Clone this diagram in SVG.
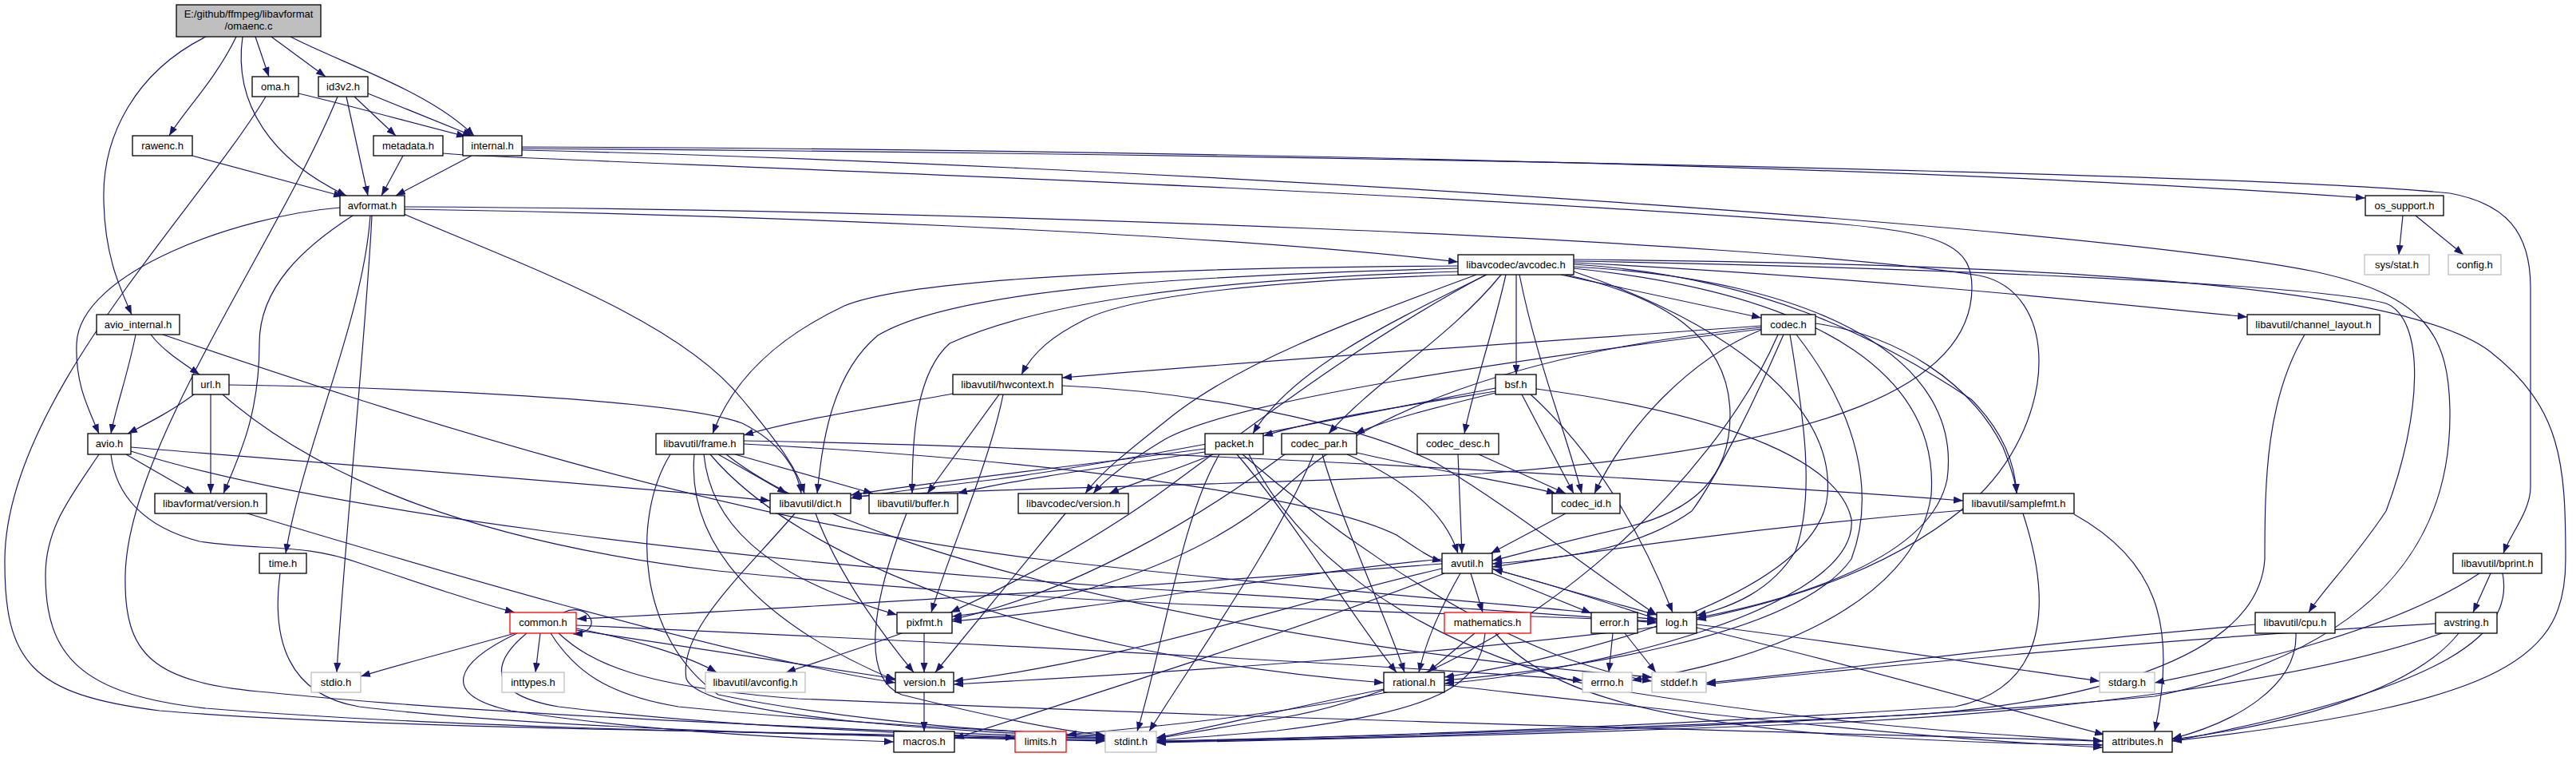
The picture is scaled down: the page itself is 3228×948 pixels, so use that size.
<svg xmlns="http://www.w3.org/2000/svg" width="3228" height="948" viewBox="0 0 3228 948">
<defs>
<marker id="a" markerWidth="12" markerHeight="9" refX="12" refY="4.5" orient="auto" markerUnits="userSpaceOnUse"><path d="M0,0 L12,4.5 L0,9 z" fill="#191970"/></marker>
</defs>
<style>
.e{fill:none;stroke:#191970;stroke-width:1.2;marker-end:url(#a)}
.n rect{fill:#ffffff;stroke:#000000;stroke-width:1.3}
.g rect{fill:#ffffff;stroke:#bfbfbf;stroke-width:1.3}
.r rect{fill:#ffffff;stroke:#ff0000;stroke-width:1.3}
.m rect{fill:#bfbfbf;stroke:#000000;stroke-width:1.3}
text{font-family:"Liberation Sans",Arial,sans-serif;font-size:13px;fill:#000000;text-anchor:middle}
</style>
<rect x="0" y="0" width="3228" height="948" fill="#ffffff"/>
<g id="edges">
<path class="e" d="M258,46 C170,90 128,170 130,250 C131,320 150,360 165,394"/>
<path class="e" d="M296,46 C270,100 230,140 212,170"/>
<path class="e" d="M304,46 C292,130 340,200 434,245"/>
<path class="e" d="M320,46 L337,96"/>
<path class="e" d="M340,46 L408,96"/>
<path class="e" d="M364,46 C430,80 540,115 594,170"/>
<path class="e" d="M374,117 C450,135 520,155 584,171"/>
<path class="e" d="M333,121 C250,260 8,500 6,700 C5,830 40,870 200,890 C500,915 1100,918 1385,925"/>
<path class="e" d="M444,121 L496,170"/>
<path class="e" d="M461,117 L592,170"/>
<path class="e" d="M434,121 L461,245"/>
<path class="e" d="M423,121 C350,300 160,560 157,720 C155,820 190,855 336,867 C600,895 1100,915 1385,925"/>
<path class="e" d="M241,195 L430,246"/>
<path class="e" d="M505,195 L478,245"/>
<path class="e" d="M555,192 C620,200 1600,228 2300,280 C2440,292 2471,310 2471,360 C2471,480 2300,560 1858,593 C1500,610 1200,612 1068,622"/>
<path class="e" d="M591,195 L496,245"/>
<path class="e" d="M654,184 C1200,186 2300,200 2964,248"/>
<path class="e" d="M654,186 C1500,192 2800,215 3070,242 C3140,255 3171,290 3171,360 L3171,610 C3171,640 3145,670 3137,693"/>
<path class="e" d="M654,188 C1400,205 2600,280 2900,340 C3040,370 3070,420 3070,520 C3070,700 2950,820 2700,872 C2300,910 1700,925 1449,929"/>
<path class="e" d="M426,260 C300,270 100,340 96,430 C94,480 110,510 124,543"/>
<path class="e" d="M442,270 C380,310 325,360 325,430 C325,520 300,570 280,618"/>
<path class="e" d="M464,270 C455,400 380,560 358,693"/>
<path class="e" d="M466,270 C460,400 430,700 422,842"/>
<path class="e" d="M506,268 C650,330 850,400 930,500 C980,560 1000,590 1008,618"/>
<path class="e" d="M507,262 C900,268 1500,290 1827,328"/>
<path class="e" d="M507,259 C1200,262 2200,300 2480,345 C2580,365 2580,520 2480,620 C2380,710 2250,750 2126,776"/>
<path class="e" d="M170,419 C160,470 145,510 139,543"/>
<path class="e" d="M189,419 C205,440 230,455 250,469"/>
<path class="e" d="M204,419 C500,520 900,650 1300,700 C1700,745 1950,760 2076,776"/>
<path class="e" d="M243,494 C215,515 185,530 160,543"/>
<path class="e" d="M264,494 L264,618"/>
<path class="e" d="M279,494 C400,600 600,680 900,715 C1400,765 1800,765 2076,778"/>
<path class="e" d="M287,482 C500,485 850,500 930,530 C980,555 1000,590 1004,618"/>
<path class="e" d="M124,569 C90,620 57,660 57,720 C57,820 100,870 258,887 C600,915 1100,920 1385,927"/>
<path class="e" d="M139,569 C145,620 180,660 250,678 C330,690 380,680 450,705 C540,735 600,755 645,767"/>
<path class="e" d="M158,569 L243,618"/>
<path class="e" d="M164,560 C400,580 800,610 965,627"/>
<path class="e" d="M164,565 C400,640 900,700 1400,735 C1800,760 1950,768 2076,780"/>
<path class="e" d="M310,643 C500,700 900,820 1122,855"/>
<path class="e" d="M351,718 C340,800 360,870 450,885 C700,915 1100,922 1385,928"/>
<path class="e" d="M645,793 C580,812 500,832 452,847"/>
<path class="e" d="M677,793 L671,842"/>
<path class="e" d="M722,787 C790,800 860,820 898,842"/>
<path class="e" d="M722,783 C1100,800 1700,830 1983,852"/>
<path class="e" d="M722,789 C900,815 1050,838 1122,850"/>
<path class="e" d="M648,793 C570,830 550,870 640,890 C800,915 1000,925 1120,929"/>
<path class="e" d="M660,793 C615,830 610,870 700,885 C900,910 1150,918 1272,924"/>
<path class="e" d="M690,793 C720,840 760,870 850,885 C1050,905 1250,915 1385,922"/>
<path class="e" d="M700,793 C740,830 800,860 1000,875 C1700,905 2300,918 2635,928"/>
<path class="e" d="M706,767 C738,752 760,792 718,794"/>
<path class="e" d="M1807,706 C1500,730 1000,762 723,775"/>
<path class="e" d="M1130,793 C1070,815 1020,830 985,842"/>
<path class="e" d="M1158,793 L1158,842"/>
<path class="e" d="M1158,867 L1158,916"/>
<path class="e" d="M996,643 C930,720 850,790 860,850 C880,900 1200,915 1385,924"/>
<path class="e" d="M1022,643 C1050,720 1110,800 1145,842"/>
<path class="e" d="M1136,643 C1090,760 1080,850 1130,870 C1250,900 1330,915 1385,921"/>
<path class="e" d="M1335,643 L1172,842"/>
<path class="e" d="M1956,344 C2050,365 2150,385 2207,398"/>
<path class="e" d="M1900,344 L1900,469"/>
<path class="e" d="M1887,344 C1870,420 1845,490 1835,543"/>
<path class="e" d="M1904,344 C1925,450 1965,550 1982,618"/>
<path class="e" d="M1881,344 C1820,420 1720,480 1665,543"/>
<path class="e" d="M1863,344 C1750,400 1620,460 1570,543"/>
<path class="e" d="M1827,333 C1500,335 1150,345 1058,383 C980,420 920,470 893,543"/>
<path class="e" d="M1840,344 C1600,350 1420,370 1360,400 C1320,420 1295,440 1280,469"/>
<path class="e" d="M1827,336 C1500,345 1200,360 1100,420 C1040,470 1030,560 1024,618"/>
<path class="e" d="M1830,340 C1500,350 1300,380 1190,430 C1145,470 1143,560 1143,618"/>
<path class="e" d="M1850,344 C1700,400 1560,450 1470,520 C1420,560 1380,590 1360,618"/>
<path class="e" d="M1862,344 C1700,430 1560,540 1450,620 C1350,690 1250,740 1191,767"/>
<path class="e" d="M1962,344 C2080,370 2168,420 2168,520 C2168,600 2120,640 2040,660 C1950,680 1900,695 1870,702"/>
<path class="e" d="M1972,334 C2280,350 2460,450 2440,600 C2420,700 2250,750 2126,774"/>
<path class="e" d="M1972,336 C2300,370 2430,480 2420,620 C2400,760 2200,830 2045,852"/>
<path class="e" d="M1972,340 C2150,400 2300,500 2290,620 C2280,740 2000,820 1810,848"/>
<path class="e" d="M1972,331 C2200,345 2350,420 2470,500 C2510,540 2525,580 2527,618"/>
<path class="e" d="M1972,329 C2300,345 2600,375 2816,397"/>
<path class="e" d="M1972,327 C2400,335 2900,355 2990,380 C3040,400 3035,520 2990,640 C2950,700 2910,740 2893,767"/>
<path class="e" d="M1972,325 C2500,330 3000,350 3120,440 C3210,510 3215,580 3215,700 C3215,820 3150,880 2722,928"/>
<path class="e" d="M2207,413 C2117,450 2039,533 1998,618"/>
<path class="e" d="M2235,419 C2200,500 2150,600 2120,640 C2050,690 1950,700 1870,706"/>
<path class="e" d="M2243,419 C2260,520 2275,620 2250,690 C2220,740 2170,760 2126,771"/>
<path class="e" d="M2251,419 C2330,520 2350,620 2320,700 C2250,800 1950,840 1810,852"/>
<path class="e" d="M2275,405 C2380,420 2470,480 2510,560 C2522,590 2526,605 2527,618"/>
<path class="e" d="M2207,408 C1900,430 1600,450 1331,473"/>
<path class="e" d="M2207,412 C1900,450 1550,500 1460,550 C1410,580 1385,600 1370,618"/>
<path class="e" d="M2207,410 C1900,440 1700,520 1600,620 C1480,720 1300,760 1193,772"/>
<path class="e" d="M2228,419 C2150,600 1900,850 1600,900 C1520,912 1480,920 1449,925"/>
<path class="e" d="M1874,486 C1700,520 1400,580 1250,600 C1150,612 1100,618 1066,624"/>
<path class="e" d="M1874,490 C1750,510 1650,525 1583,546"/>
<path class="e" d="M1874,492 C1800,510 1740,525 1698,543"/>
<path class="e" d="M1907,494 L1972,618"/>
<path class="e" d="M1918,494 C1990,560 2050,650 2096,767"/>
<path class="e" d="M1925,487 C2100,510 2300,560 2320,650 C2330,760 2000,840 1810,856"/>
<path class="e" d="M1688,569 C1760,600 1810,640 1827,693"/>
<path class="e" d="M1700,567 C1800,590 1900,605 1950,618"/>
<path class="e" d="M1657,569 C1680,650 1740,780 1760,842"/>
<path class="e" d="M1646,569 C1600,680 1500,820 1440,916"/>
<path class="e" d="M1610,569 C1500,650 1350,740 1193,776"/>
<path class="e" d="M1827,569 L1832,693"/>
<path class="e" d="M1853,569 L1962,618"/>
<path class="e" d="M1962,643 L1868,693"/>
<path class="e" d="M1510,562 C1300,590 1150,605 1066,620"/>
<path class="e" d="M1510,566 C1350,590 1250,605 1200,618"/>
<path class="e" d="M1520,569 C1470,590 1420,605 1390,618"/>
<path class="e" d="M1557,569 C1650,650 1800,760 1950,820 C2020,845 2050,850 2070,853"/>
<path class="e" d="M1528,569 C1480,650 1460,800 1425,916"/>
<path class="e" d="M1565,569 C1620,680 1750,800 2000,860 C2300,910 2500,920 2635,928"/>
<path class="e" d="M1550,569 C1620,650 1700,780 1750,842"/>
<path class="e" d="M932,556 C1300,575 1650,620 1750,670 C1780,690 1795,700 1807,703"/>
<path class="e" d="M900,569 L986,618"/>
<path class="e" d="M921,569 L1094,618"/>
<path class="e" d="M932,552 C1400,560 2100,600 2460,627"/>
<path class="e" d="M882,569 C890,650 950,720 1124,770"/>
<path class="e" d="M870,569 C860,680 950,780 1122,852"/>
<path class="e" d="M890,569 C1000,700 1300,820 1734,855"/>
<path class="e" d="M910,569 C1100,720 1700,820 2070,848"/>
<path class="e" d="M840,569 C790,650 800,800 900,870 C1100,910 1300,918 1385,922"/>
<path class="e" d="M1200,492 C1100,510 1000,525 932,545"/>
<path class="e" d="M1252,494 L1162,618"/>
<path class="e" d="M1331,483 C1500,490 1700,530 1800,580 C1900,640 2000,720 2076,770"/>
<path class="e" d="M1257,494 C1240,580 1190,690 1167,767"/>
<path class="e" d="M2460,639 C2200,660 2000,690 1870,710"/>
<path class="e" d="M2599,644 C2700,700 2730,780 2700,916"/>
<path class="e" d="M2535,643 C2570,750 2570,860 2450,885 C2000,915 1600,925 1449,928"/>
<path class="e" d="M2888,419 C2840,500 2838,600 2838,700 C2830,830 2600,880 2400,895 C2000,915 1600,925 1449,929"/>
<path class="e" d="M3121,718 L3099,767"/>
<path class="e" d="M3107,718 C3000,790 2800,835 2700,855"/>
<path class="e" d="M3136,718 C3150,790 3080,860 2722,928"/>
<path class="e" d="M2826,782 C2500,810 2300,840 2138,855"/>
<path class="e" d="M2877,793 C2880,860 2800,905 2722,925"/>
<path class="e" d="M3052,781 C2700,800 2300,840 2138,857"/>
<path class="e" d="M3060,793 C2900,850 2600,890 2300,905 C1900,922 1600,927 1449,930"/>
<path class="e" d="M3081,793 C3020,870 2850,910 2722,926"/>
<path class="e" d="M1843,718 L1858,767"/>
<path class="e" d="M1830,718 C1800,770 1785,810 1778,842"/>
<path class="e" d="M1868,717 L1994,768"/>
<path class="e" d="M1870,712 C1950,735 2020,755 2076,770"/>
<path class="e" d="M1807,712 C1600,760 1400,830 1195,853"/>
<path class="e" d="M1810,718 C1650,780 1400,860 1196,925"/>
<path class="e" d="M1807,700 C1600,720 1400,760 1193,778"/>
<path class="e" d="M2076,775 C2000,750 1920,725 1871,713"/>
<path class="e" d="M2076,785 C1800,820 1500,840 1195,857"/>
<path class="e" d="M2126,782 C2350,810 2500,835 2631,853"/>
<path class="e" d="M2126,786 C2350,840 2520,890 2637,920"/>
<path class="e" d="M2021,793 L2016,842"/>
<path class="e" d="M2036,793 L2075,842"/>
<path class="e" d="M1848,793 L1789,842"/>
<path class="e" d="M1861,793 C1855,860 1800,890 1600,915 C1520,922 1480,925 1449,927"/>
<path class="e" d="M1874,793 C1930,860 2050,900 2300,920 C2450,930 2550,932 2635,933"/>
<path class="e" d="M1734,863 C1600,890 1500,915 1449,924"/>
<path class="e" d="M1738,867 C1600,895 1450,910 1337,920"/>
<path class="e" d="M1810,858 C2100,890 2400,925 2635,936"/>
<path class="e" d="M3011,270 L3006,319"/>
<path class="e" d="M3027,270 L3087,319"/>
</g>
<g id="n_main" class="m"><rect x="221" y="6" width="181" height="40"/><text x="311.5" y="22">E:/github/ffmpeg/libavformat</text><text x="311.5" y="37">/omaenc.c</text></g>
<g id="n_oma" class="n"><rect x="316" y="96" width="58" height="25"/><text x="345" y="112.5">oma.h</text></g>
<g id="n_id3v2" class="n"><rect x="399" y="96" width="62" height="25"/><text x="430" y="112.5">id3v2.h</text></g>
<g id="n_rawenc" class="n"><rect x="166" y="170" width="75" height="25"/><text x="203.5" y="186.5">rawenc.h</text></g>
<g id="n_metadata" class="n"><rect x="468" y="170" width="87" height="25"/><text x="511.5" y="186.5">metadata.h</text></g>
<g id="n_internal" class="n"><rect x="580" y="170" width="74" height="25"/><text x="617" y="186.5">internal.h</text></g>
<g id="n_avformat" class="n"><rect x="426" y="245" width="81" height="25"/><text x="466.5" y="261.5">avformat.h</text></g>
<g id="n_os_support" class="n"><rect x="2964" y="245" width="98" height="25"/><text x="3013" y="261.5">os_support.h</text></g>
<g id="n_sysstat" class="g"><rect x="2963" y="319" width="81" height="25"/><text x="3003.5" y="335.5">sys/stat.h</text></g>
<g id="n_config" class="g"><rect x="3068" y="319" width="66" height="25"/><text x="3101" y="335.5">config.h</text></g>
<g id="n_avio_internal" class="n"><rect x="121" y="394" width="104" height="25"/><text x="173" y="410.5">avio_internal.h</text></g>
<g id="n_url" class="n"><rect x="241" y="469" width="46" height="25"/><text x="264" y="485.5">url.h</text></g>
<g id="n_avio" class="n"><rect x="110" y="543" width="54" height="26"/><text x="137" y="560">avio.h</text></g>
<g id="n_lavf_version" class="n"><rect x="194" y="618" width="140" height="25"/><text x="264" y="634.5">libavformat/version.h</text></g>
<g id="n_avcodec" class="n"><rect x="1827" y="319" width="145" height="25"/><text x="1899.5" y="335.5">libavcodec/avcodec.h</text></g>
<g id="n_codec" class="n"><rect x="2207" y="394" width="68" height="25"/><text x="2241" y="410.5">codec.h</text></g>
<g id="n_channel_layout" class="n"><rect x="2816" y="394" width="166" height="25"/><text x="2899" y="410.5">libavutil/channel_layout.h</text></g>
<g id="n_hwcontext" class="n"><rect x="1194" y="469" width="137" height="25"/><text x="1262.5" y="485.5">libavutil/hwcontext.h</text></g>
<g id="n_bsf" class="n"><rect x="1874" y="469" width="51" height="25"/><text x="1899.5" y="485.5">bsf.h</text></g>
<g id="n_frame" class="n"><rect x="822" y="543" width="110" height="26"/><text x="877" y="560">libavutil/frame.h</text></g>
<g id="n_packet" class="n"><rect x="1510" y="543" width="73" height="26"/><text x="1546.5" y="560">packet.h</text></g>
<g id="n_codec_par" class="n"><rect x="1606" y="543" width="94" height="26"/><text x="1653" y="560">codec_par.h</text></g>
<g id="n_codec_desc" class="n"><rect x="1776" y="543" width="102" height="26"/><text x="1827" y="560">codec_desc.h</text></g>
<g id="n_dict" class="n"><rect x="965" y="618" width="101" height="25"/><text x="1015.5" y="634.5">libavutil/dict.h</text></g>
<g id="n_buffer" class="n"><rect x="1089" y="618" width="111" height="25"/><text x="1144.5" y="634.5">libavutil/buffer.h</text></g>
<g id="n_lavc_version" class="n"><rect x="1276" y="618" width="138" height="25"/><text x="1345" y="634.5">libavcodec/version.h</text></g>
<g id="n_codec_id" class="n"><rect x="1945" y="618" width="85" height="25"/><text x="1987.5" y="634.5">codec_id.h</text></g>
<g id="n_samplefmt" class="n"><rect x="2460" y="618" width="139" height="25"/><text x="2529.5" y="634.5">libavutil/samplefmt.h</text></g>
<g id="n_avutil" class="n"><rect x="1807" y="693" width="63" height="25"/><text x="1838.5" y="709.5">avutil.h</text></g>
<g id="n_time" class="n"><rect x="325" y="693" width="59" height="25"/><text x="354.5" y="709.5">time.h</text></g>
<g id="n_bprint" class="n"><rect x="3074" y="693" width="111" height="25"/><text x="3129.5" y="709.5">libavutil/bprint.h</text></g>
<g id="n_common" class="r"><rect x="639" y="767" width="83" height="26"/><text x="680.5" y="784">common.h</text></g>
<g id="n_pixfmt" class="n"><rect x="1124" y="767" width="69" height="26"/><text x="1158.5" y="784">pixfmt.h</text></g>
<g id="n_mathematics" class="r"><rect x="1810" y="767" width="108" height="26"/><text x="1864" y="784">mathematics.h</text></g>
<g id="n_error" class="n"><rect x="1994" y="767" width="58" height="26"/><text x="2023" y="784">error.h</text></g>
<g id="n_log" class="n"><rect x="2076" y="767" width="50" height="26"/><text x="2101" y="784">log.h</text></g>
<g id="n_cpu" class="n"><rect x="2826" y="767" width="100" height="26"/><text x="2876" y="784">libavutil/cpu.h</text></g>
<g id="n_avstring" class="n"><rect x="3052" y="767" width="77" height="26"/><text x="3090.5" y="784">avstring.h</text></g>
<g id="n_stdio" class="g"><rect x="390" y="842" width="62" height="25"/><text x="421" y="858.5">stdio.h</text></g>
<g id="n_inttypes" class="g"><rect x="629" y="842" width="78" height="25"/><text x="668" y="858.5">inttypes.h</text></g>
<g id="n_avconfig" class="g"><rect x="884" y="842" width="125" height="25"/><text x="946.5" y="858.5">libavutil/avconfig.h</text></g>
<g id="n_version" class="n"><rect x="1122" y="842" width="73" height="25"/><text x="1158.5" y="858.5">version.h</text></g>
<g id="n_rational" class="n"><rect x="1734" y="842" width="76" height="25"/><text x="1772" y="858.5">rational.h</text></g>
<g id="n_errno" class="g"><rect x="1983" y="842" width="62" height="25"/><text x="2014" y="858.5">errno.h</text></g>
<g id="n_stddef" class="g"><rect x="2070" y="842" width="68" height="25"/><text x="2104" y="858.5">stddef.h</text></g>
<g id="n_stdarg" class="g"><rect x="2631" y="842" width="69" height="25"/><text x="2665.5" y="858.5">stdarg.h</text></g>
<g id="n_macros" class="n"><rect x="1120" y="916" width="76" height="26"/><text x="1158" y="933">macros.h</text></g>
<g id="n_limits" class="r"><rect x="1272" y="916" width="64" height="26"/><text x="1304" y="933">limits.h</text></g>
<g id="n_stdint" class="g"><rect x="1385" y="916" width="64" height="26"/><text x="1417" y="933">stdint.h</text></g>
<g id="n_attributes" class="n"><rect x="2635" y="916" width="87" height="26"/><text x="2678.5" y="933">attributes.h</text></g>
</svg>
